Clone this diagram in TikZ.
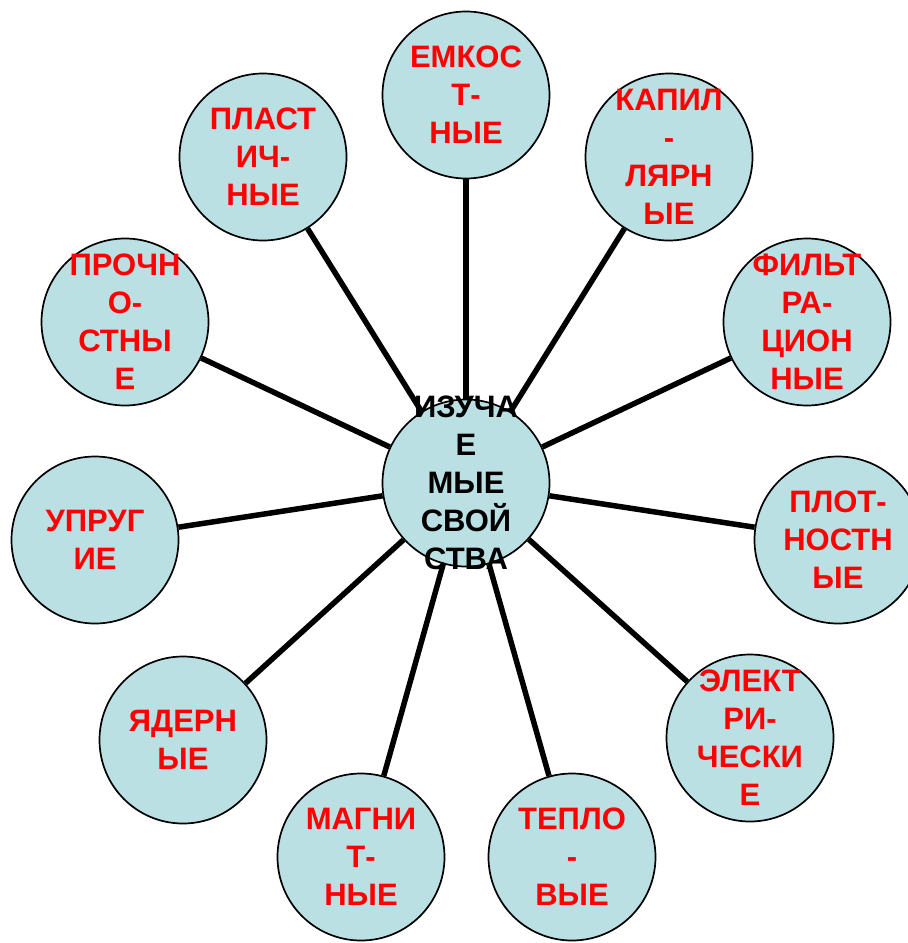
\documentclass[tikz,border=0pt]{standalone}
\usepackage{fontspec}
\setmainfont{Liberation Sans}
\usepackage{xcolor}
\usepackage{tikz}
\definecolor{bubblefill}{RGB}{187,224,227}
\definecolor{propred}{RGB}{255,0,0}

\begin{document}
\begin{tikzpicture}[x=1pt,y=-1pt,
	bubble/.style={circle,draw,line width=1.7pt,fill=bubblefill,minimum size=167pt,inner sep=0pt},
	word/.style={font=\fontsize{31}{38}\selectfont\bfseries,align=center,text=propred,inner sep=0pt},
	spoke/.style={line width=5.5pt}]
			\useasboundingbox (0,0) rectangle (908,943);

			\node[bubble] (c)     at (466,483) {};
			\node[bubble] (emk)   at (466,95)  {};
			\node[bubble] (plast) at (263,157) {};
			\node[bubble] (kap)   at (669,157) {};
			\node[bubble] (proch) at (125,322) {};
			\node[bubble] (filt)  at (807,322) {};
			\node[bubble] (upr)   at (95,540)  {};
			\node[bubble] (plot)  at (838,540) {};
			\node[bubble] (yad)   at (183,740) {};
			\node[bubble] (elek)  at (750,738) {};
			\node[bubble] (magn)  at (361,857) {};
			\node[bubble] (tepl)  at (572,857) {};

			\draw[spoke] (c) edge (emk)
					(c) edge (plast)
					(c) edge (kap)
					(c) edge (proch)
					(c) edge (filt)
					(c) edge (upr)
					(c) edge (plot)
					(c) edge (yad)
					(c) edge (elek)
					(c) edge (magn)
					(c) edge (tepl);

			\node[word,text=black] (c-t) at (c) {ИЗУЧА\\Е\\МЫЕ\\СВОЙ\\СТВА};
			\node[word] (emk-t)   at (emk)   {ЕМКОС\\Т-\\НЫЕ};
			\node[word] (plast-t) at (plast) {ПЛАСТ\\ИЧ-\\НЫЕ};
			\node[word] (kap-t)   at (kap)   {КАПИЛ\\-\\ЛЯРН\\ЫЕ};
			\node[word] (proch-t) at (proch) {ПРОЧН\\О-\\СТНЫ\\Е};
			\node[word] (filt-t)  at (filt)  {ФИЛЬТ\\РА-\\ЦИОН\\НЫЕ};
			\node[word] (upr-t)   at (upr)   {УПРУГ\\ИЕ};
			\node[word] (plot-t)  at (plot)  {ПЛОТ-\\НОСТН\\ЫЕ};
			\node[word] (yad-t)   at (yad)   {ЯДЕРН\\ЫЕ};
			\node[word] (elek-t)  at (elek)  {ЭЛЕКТ\\РИ-\\ЧЕСКИ\\Е};
			\node[word] (magn-t)  at (magn)  {МАГНИ\\Т-\\НЫЕ};
			\node[word] (tepl-t)  at (tepl)  {ТЕПЛО\\-\\ВЫЕ};
\end{tikzpicture}
\end{document}
